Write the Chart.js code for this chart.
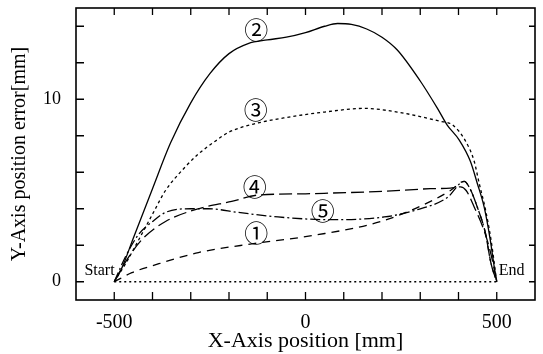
<!DOCTYPE html>
<html><head><meta charset="utf-8">
<script src="https://cdn.jsdelivr.net/npm/chart.js@4/dist/chart.umd.min.js"></script>
<style>html,body{margin:0;padding:0;background:#fff}#wrap{width:543px;height:354px}</style>
</head><body><div id="wrap"><canvas id="c" width="543" height="354"></canvas></div>
<script>
// ---- data ----
const xTickLabels = [-500, 0, 500];
const yTickLabels = [0, 10];
const xMinorTicks = [-500,-400,-300,-200,-100,0,100,200,300,400,500];
const yMinorTicks = [0,2,4,6,8,10,12,14];

const x1 = [-500,-454,-401,-280,-132,24,197,327,379,415,430,449,470,485,500];
const y1 = [0,0.5,0.87,1.6,2.1,2.55,3.3,4.4,5.0,5.5,5.1,4.1,2.7,1.0,0];

const x2 = [-500,-480,-450,-400,-353,-300,-250,-200,-150,-100,-50,0,50,84,120,160,200,240,300,345,370,402,431,449,467,483,495,500];
const y2 = [0,0.76,2.4,5.1,7.6,9.8,11.4,12.5,13.05,13.25,13.4,13.65,14.0,14.15,14.1,13.85,13.4,12.7,11.0,9.5,8.6,7.76,6.6,5.4,4.1,2.3,0.6,0];

const x3 = [-500,-470,-436,-400,-366,-314,-280,-236,-200,-124,-50,50,154,240,300,350,384,417,441,454,470,485,500];
const y3 = [0,1.0,2.3,3.7,5.0,6.3,7.0,7.7,8.2,8.7,9.0,9.3,9.5,9.3,9.05,8.8,8.6,7.76,6.6,5.4,4.0,2.3,0];

const x4 = [-500,-470,-428,-366,-280,-193,-124,0,67,200,327,379,405,420,441,467,485,500];
const y4 = [0,1.1,2.3,3.3,4.0,4.4,4.75,4.82,4.86,4.95,5.1,5.13,5.2,5.0,4.1,2.8,1.5,0];

const x5 = [-500,-470,-436,-400,-366,-300,-254,-176,-72,67,206,284,370,415,430,449,470,485,500];
const y5 = [0,1.4,2.6,3.3,3.8,4.0,4.0,3.8,3.55,3.4,3.55,3.9,4.6,5.5,5.1,4.1,2.7,1.0,0];

const xBase = [-500, 500];
const yBase = [0, 0];

const curveLabels = ['①','②','③','④','⑤'];
const curveLabelX = [-129,-129,-130,-133,45];
const curveLabelY = [2.7,13.8,9.4,5.2,3.9];

const endLabels = ['Start','End'];
const endLabelX = [-499, 505];
const endLabelY = [0.6, 0.6];

// ---- build ----
const pts = (xs, ys) => xs.map((x, i) => ({x: x, y: ys[i]}));
const serif = "'Liberation Serif','Times New Roman',serif";

function ds(label, xs, ys, dash, tension) {
  return {label, data: pts(xs, ys), showLine: true, borderColor: '#000', borderWidth: 1.3,
    borderDash: dash, pointRadius: 0, fill: false, tension: tension,
    cubicInterpolationMode: 'monotone'};
}

const framePlugin = {
  id: 'frame',
  afterDraw(chart) {
    const {ctx, chartArea: a, scales: {x, y}} = chart;
    ctx.save();
    ctx.strokeStyle = '#000';
    ctx.lineWidth = 1.6;
    ctx.strokeRect(a.left, a.top, a.right - a.left, a.bottom - a.top);
    ctx.lineWidth = 1.3;
    ctx.beginPath();
    xMinorTicks.forEach(v => {
      const px = x.getPixelForValue(v);
      ctx.moveTo(px, a.bottom); ctx.lineTo(px, a.bottom - 8);
      ctx.moveTo(px, a.top); ctx.lineTo(px, a.top + 7);
    });
    yMinorTicks.forEach(v => {
      const py = y.getPixelForValue(v);
      ctx.moveTo(a.left, py); ctx.lineTo(a.left + 8, py);
      ctx.moveTo(a.right, py); ctx.lineTo(a.right - 6, py);
    });
    ctx.stroke();
    // curve labels
    ctx.fillStyle = '#000';
    ctx.textBaseline = 'middle';
    ctx.textAlign = 'center';
    ctx.font = "24px 'Noto Sans CJK JP','DejaVu Sans',sans-serif";
    curveLabels.forEach((t, i) => {
      ctx.fillText(t, x.getPixelForValue(curveLabelX[i]), y.getPixelForValue(curveLabelY[i]));
    });
    ctx.font = "16px " + serif;
    endLabels.forEach((t, i) => {
      ctx.textAlign = i === 0 ? 'right' : 'left';
      ctx.fillText(t, x.getPixelForValue(endLabelX[i]), y.getPixelForValue(endLabelY[i]));
    });
    ctx.restore();
  }
};

new Chart(document.getElementById('c'), {
  type: 'scatter',
  data: {
    datasets: [
      ds('1', x1, y1, [8, 6], 0.4),
      ds('2', x2, y2, [], 0.4),
      ds('3', x3, y3, [3, 3], 0.4),
      ds('4', x4, y4, [13, 5], 0.4),
      ds('5', x5, y5, [10, 3, 2, 3], 0.4),
      ds('base', xBase, yBase, [2, 3], 0)
    ]
  },
  options: {
    responsive: false,
    animation: false,
    devicePixelRatio: 1,
    layout: {padding: {top: 8, right: 8, left: 0, bottom: 0}},
    plugins: {legend: {display: false}, tooltip: {enabled: false}},
    scales: {
      x: {
        type: 'linear', min: -600, max: 600,
        afterBuildTicks: s => { s.ticks = xTickLabels.map(v => ({value: v})); },
        grid: {display: false}, border: {display: false},
        ticks: {color: '#000', font: {family: serif, size: 20}, padding: 3, maxRotation: 0,
                callback: v => String(v)},
        title: {display: true, text: 'X-Axis position [mm]', color: '#000',
                font: {family: serif, size: 22}, padding: {top: 0, bottom: 0}},
        afterFit: s => { s.height = 54; s.paddingLeft = 0; s.paddingRight = 0; }
      },
      y: {
        type: 'linear', min: -1, max: 15,
        afterBuildTicks: s => { s.ticks = yTickLabels.map(v => ({value: v})); },
        grid: {display: false}, border: {display: false},
        ticks: {color: '#000', font: {family: serif, size: 18}, padding: 7,
                callback: v => String(v)},
        title: {display: true, text: 'Y-Axis position error[mm]', color: '#000',
                font: {family: serif, size: 20}, padding: {top: 8, bottom: 0}},
        afterFit: s => { s.width = 76; s.paddingTop = 0; s.paddingBottom = 0; }
      }
    }
  },
  plugins: [framePlugin]
});
</script>
</body></html>
